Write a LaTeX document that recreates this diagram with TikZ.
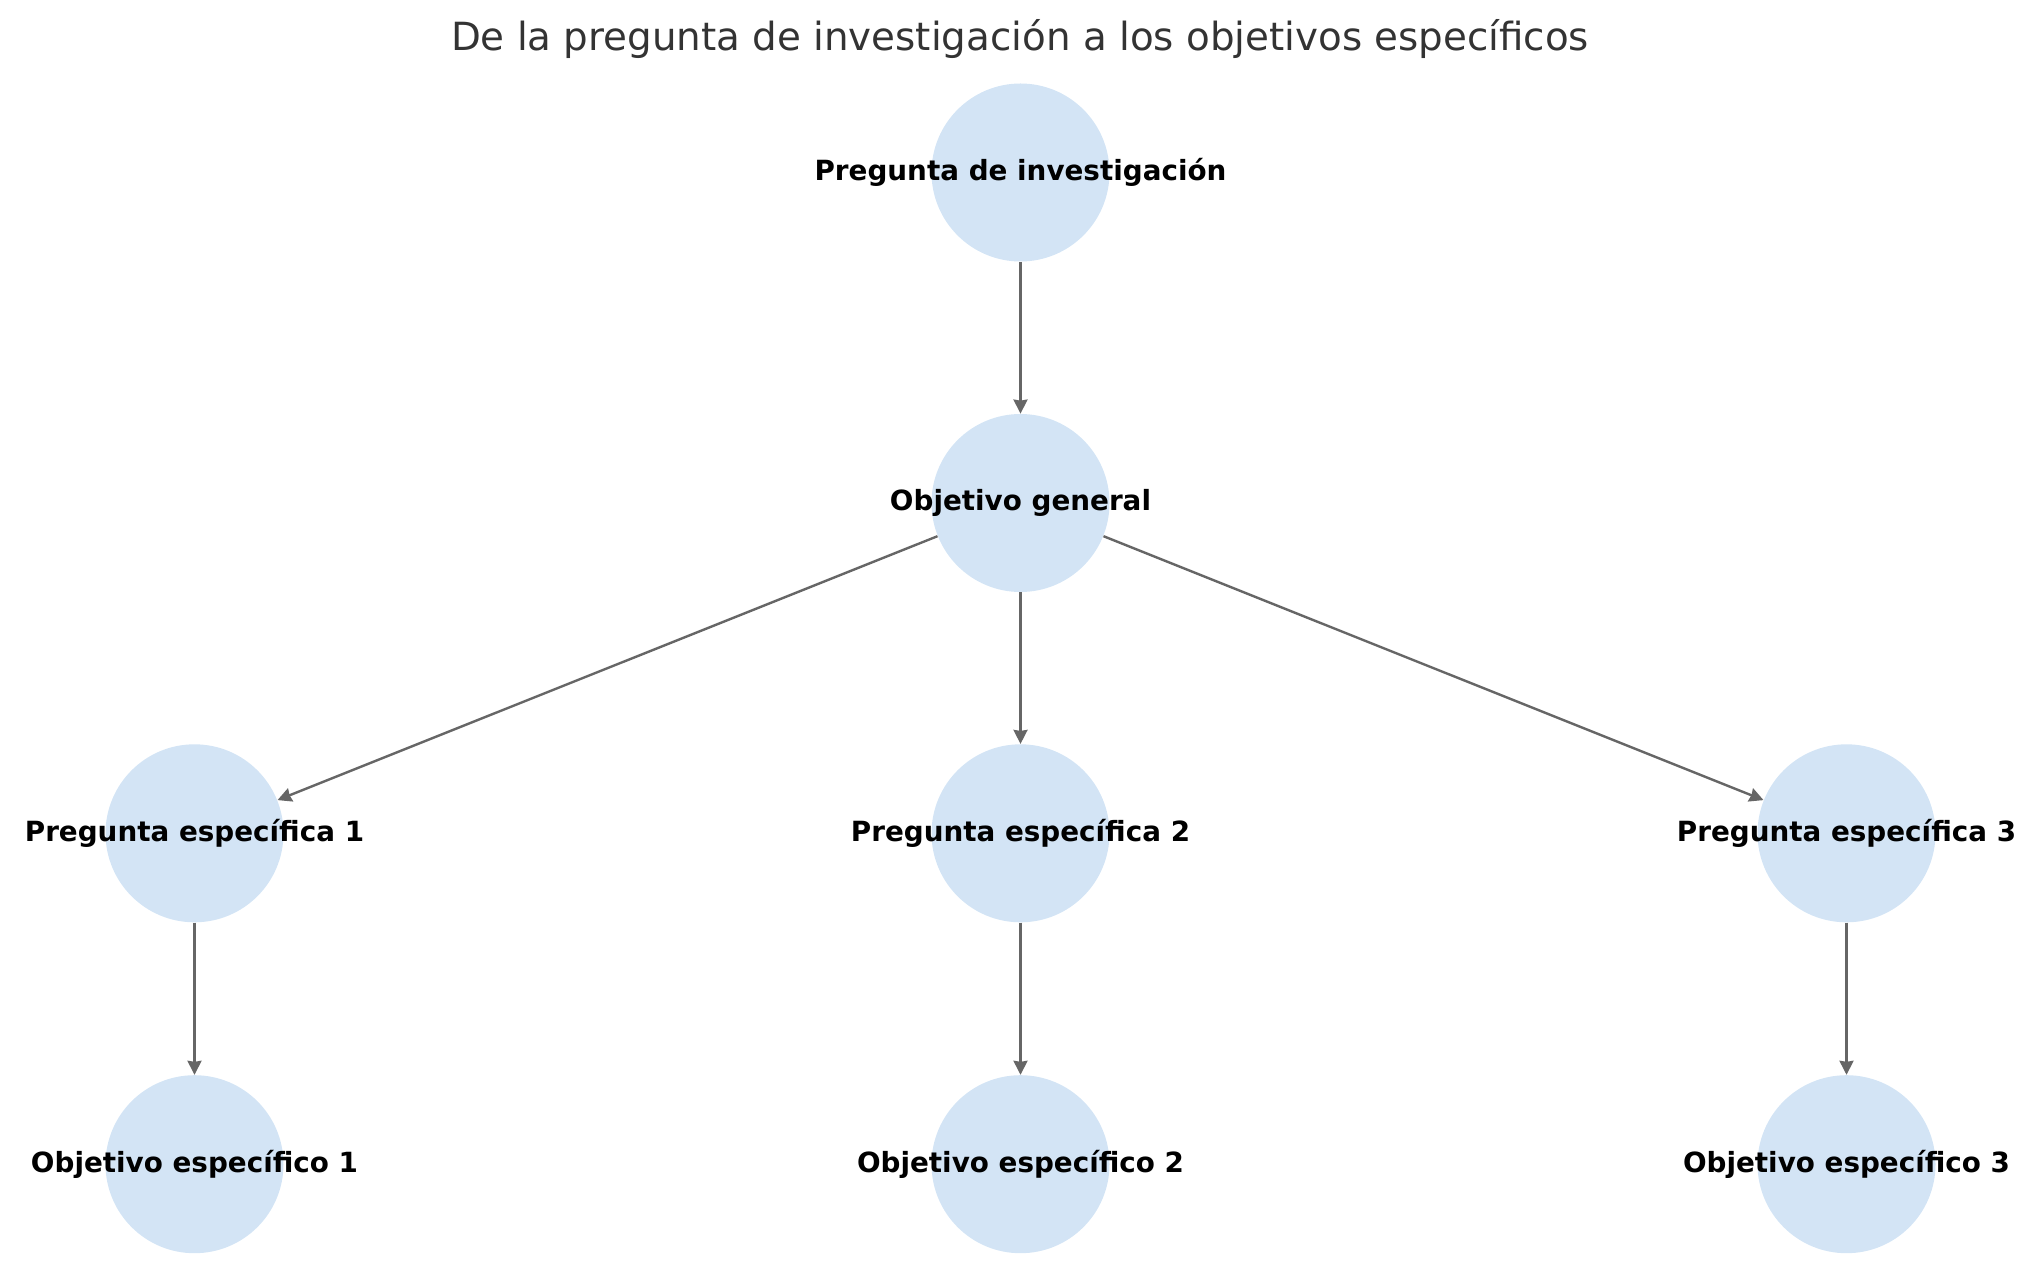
\documentclass[tikz,border=0pt]{standalone}
\usepackage{fontspec}
\setmainfont{DejaVu Sans}
\usetikzlibrary{arrows.meta}
\definecolor{nodefill}{RGB}{211,228,245}
\definecolor{edgecol}{RGB}{102,102,102}
\definecolor{titlecol}{RGB}{51,51,51}
\tikzset{
  circ/.style={circle,fill=nodefill,draw=none,minimum size=89pt,inner sep=0pt},
  lbl/.style={font=\fontsize{13.9pt}{16pt}\selectfont\bfseries,text=black,inner sep=0pt},
  edge/.style={draw=edgecol,line width=1.2pt,-{Stealth[length=7pt,width=7pt,inset=0.5pt]}}
}
\begin{document}
\begin{tikzpicture}[x=0.5pt,y=-0.5pt]
\useasboundingbox (0,0) rectangle (2039,1288);
\node[font=\fontsize{19.4pt}{23pt}\selectfont,text=titlecol,inner sep=0pt] (title) at (1020,39) {De la pregunta de investigación a los objetivos específicos};
\node[circ] (pi) at (1020.5,172.5) {};
\node[circ] (og) at (1020.5,503) {};
\node[circ] (p1) at (194.5,833.3) {};
\node[circ] (p2) at (1020.5,833.3) {};
\node[circ] (p3) at (1846.5,833.3) {};
\node[circ] (o1) at (194.5,1164.2) {};
\node[circ] (o2) at (1020.5,1164.2) {};
\node[circ] (o3) at (1846.5,1164.2) {};
\node[lbl] (tpi) at (pi.center) {Pregunta de investigación};
\node[lbl] (tog) at (og.center) {Objetivo general};
\node[lbl] (tp1) at (p1.center) {Pregunta específica 1};
\node[lbl] (tp2) at (p2.center) {Pregunta específica 2};
\node[lbl] (tp3) at (p3.center) {Pregunta específica 3};
\node[lbl] (to1) at (o1.center) {Objetivo específico 1};
\node[lbl] (to2) at (o2.center) {Objetivo específico 2};
\node[lbl] (to3) at (o3.center) {Objetivo específico 3};
\draw[edge] (pi) -- (og);
\draw[edge] (og) -- (p1);
\draw[edge] (og) -- (p2);
\draw[edge] (og) -- (p3);
\draw[edge] (p1) -- (o1);
\draw[edge] (p2) -- (o2);
\draw[edge] (p3) -- (o3);
\end{tikzpicture}
\end{document}
